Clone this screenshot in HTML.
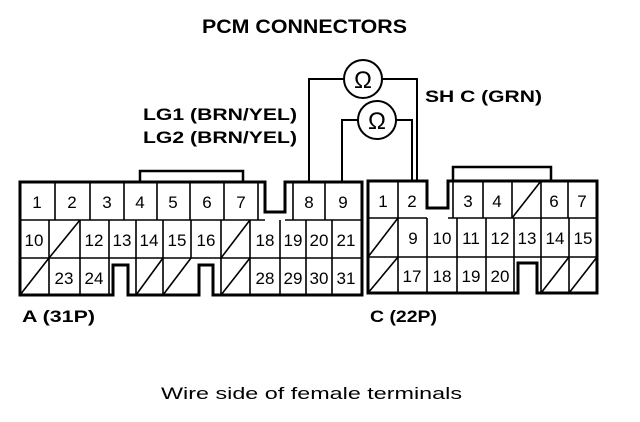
<!DOCTYPE html>
<html><head><meta charset="utf-8"><style>
html,body{margin:0;padding:0;background:#fff;width:640px;height:422px;overflow:hidden}
svg{display:block}
text{font-family:"Liberation Sans",sans-serif;fill:#000}
.b{font-weight:bold}
.n{font-size:17px;text-anchor:middle}
</style></head><body>
<svg width="640" height="422" viewBox="0 0 640 422" xmlns="http://www.w3.org/2000/svg">
<g fill="none" stroke="#000">
<path d="M20,182 H265 V212 H285 V182 H362 V295 H213 V265 H199 V295 H128 V265 H113 V295 H20 Z" stroke-width="3"/>
<path d="M140,182 V171 H243 V182" stroke-width="2.5"/>
<g stroke-width="1.6">
<path d="M20,220 H265 M285,220 H362 M20,258 H362"/>
<path d="M55,182V220 M90,182V220 M124,182V220 M157,182V220 M190,182V220 M224,182V220 M258,182V220 M293,182V220 M325,182V220"/>
<path d="M49,220V295 M80,220V295 M109,220V295 M136,220V295 M163,220V295 M191,220V258 M221,220V295 M250,220V295 M280,220V295 M306,220V295 M332,220V295"/>
<path d="M20,295 L49,258 M49,258 L80,220 M221,258 L250,220 M221,295 L250,258 M136,295 L163,258 M163,295 L191,258"/>
</g>
<path d="M368,181 H427 V208 H448 V181 H597 V293 H537 V263 H518 V293 H368 Z" stroke-width="3"/>
<path d="M453,181 V167 H551 V181" stroke-width="2.5"/>
<g stroke-width="1.6">
<path d="M368,218 H427 M448,218 H597 M368,257 H597"/>
<path d="M398,181V218 M453,181V218 M483,181V218 M512,181V218 M541,181V218 M568,181V218"/>
<path d="M398,218V293 M427,218V293 M457,218V293 M486,218V293 M514,218V293 M541,218V293 M569,218V293"/>
<path d="M368,257 L398,218 M368,293 L398,257 M512,218 L541,181 M541,293 L569,257 M569,293 L597,257"/>
</g>
<g stroke-width="2">
<circle cx="363" cy="79" r="19"/>
<circle cx="377" cy="120" r="19"/>
<path d="M344,79 H309 V182 M382,79 H417 V182"/>
<path d="M358,120 H342 V182 M396,120 H412 V182"/>
</g>
</g>
<text x="363" y="88" font-size="24" text-anchor="middle">Ω</text>
<text x="377" y="129" font-size="24" text-anchor="middle">Ω</text>
<text class="b" x="202" y="33" font-size="19" textLength="205" lengthAdjust="spacingAndGlyphs">PCM CONNECTORS</text>
<text class="b" x="143" y="120" font-size="17" textLength="154" lengthAdjust="spacingAndGlyphs">LG1 (BRN/YEL)</text>
<text class="b" x="143" y="143" font-size="17" textLength="154" lengthAdjust="spacingAndGlyphs">LG2 (BRN/YEL)</text>
<text class="b" x="425" y="102" font-size="17" textLength="117" lengthAdjust="spacingAndGlyphs">SH C (GRN)</text>
<text class="b" x="22" y="322" font-size="17" textLength="73" lengthAdjust="spacingAndGlyphs">A (31P)</text>
<text class="b" x="370" y="322" font-size="17" textLength="67" lengthAdjust="spacingAndGlyphs">C (22P)</text>
<text x="161" y="399" font-size="17" textLength="301" lengthAdjust="spacingAndGlyphs">Wire side of female terminals</text>
<g class="n">
<text x="37" y="208">1</text><text x="72" y="208">2</text><text x="107" y="208">3</text><text x="140" y="208">4</text><text x="173" y="208">5</text><text x="207" y="208">6</text><text x="241" y="208">7</text><text x="309" y="208">8</text><text x="343" y="208">9</text>
<text x="34" y="246">10</text><text x="94" y="246">12</text><text x="122" y="246">13</text><text x="149" y="246">14</text><text x="177" y="246">15</text><text x="206" y="246">16</text><text x="265" y="246">18</text><text x="293" y="246">19</text><text x="319" y="246">20</text><text x="346" y="246">21</text>
<text x="64" y="284">23</text><text x="94" y="284">24</text><text x="265" y="284">28</text><text x="293" y="284">29</text><text x="319" y="284">30</text><text x="346" y="284">31</text>
<text x="383" y="207">1</text><text x="412" y="207">2</text><text x="468" y="207">3</text><text x="497" y="207">4</text><text x="554" y="207">6</text><text x="582" y="207">7</text>
<text x="413" y="244">9</text><text x="442" y="244">10</text><text x="471" y="244">11</text><text x="500" y="244">12</text><text x="527" y="244">13</text><text x="555" y="244">14</text><text x="583" y="244">15</text>
<text x="412" y="282">17</text><text x="442" y="282">18</text><text x="471" y="282">19</text><text x="500" y="282">20</text>
</g>
</svg>
</body></html>
